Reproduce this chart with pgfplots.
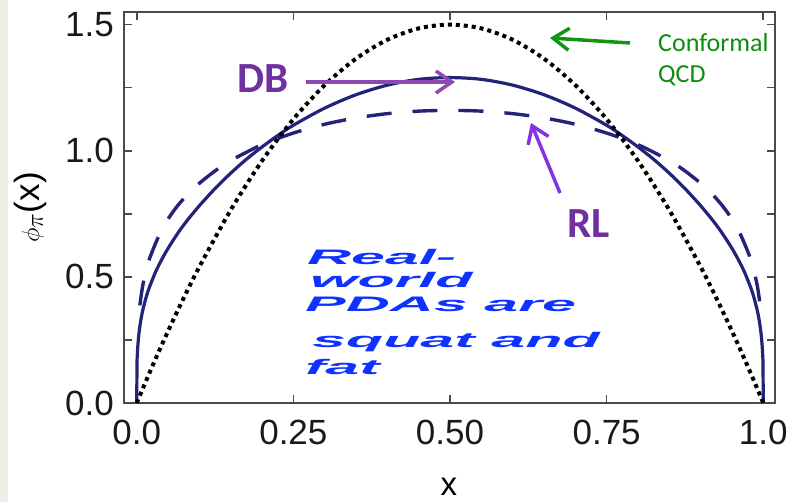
\documentclass[border=0pt]{standalone}
\usepackage{pgfplots}
\pgfplotsset{compat=1.18}
\usepackage{graphicx}
\usepackage{fontspec}
\setmainfont{Liberation Sans}
\newfontfamily\calibri{Carlito}
\usetikzlibrary{arrows.meta}
\definecolor{navy}{RGB}{35,35,120}
\definecolor{axisgray}{RGB}{75,75,75}
\definecolor{beige}{RGB}{238,238,228}
\definecolor{purptext}{RGB}{112,48,160}
\definecolor{purparrowA}{RGB}{142,72,180}
\definecolor{purparrowB}{RGB}{132,52,222}
\definecolor{greentext}{RGB}{14,140,14}
\definecolor{greenarrow}{RGB}{16,150,16}
\definecolor{bluetext}{RGB}{15,50,255}
\begin{document}
\begin{tikzpicture}[x=1pt,y=1pt]
\useasboundingbox (0,0) rectangle (788,502);
\fill[beige] (0,0) rectangle (8,502);
\begin{axis}[
  at={(124pt,99pt)}, anchor=south west,
  scale only axis, width=651pt, height=391pt,
  xmin=-0.0203, xmax=1.0187, ymin=0, ymax=1.55,
  axis line style={line width=2pt, color=axisgray},
  tick style={line width=1.6pt, color=axisgray},
  major tick length=8pt, minor tick length=8pt,
  tick align=inside,
  xtick={0,0.25,0.5,0.75,1},
  xticklabels={0.0,0.25,0.50,0.75,1.0},
  ytick={0,0.5,1,1.5},
  yticklabels={0.0,0.5,1.0,1.5},
  minor ytick={0.25,0.75,1.25},
  ticklabel style={font=\fontsize{35}{35}\selectfont, text=black!90},
  xticklabel style={anchor=north, inner sep=0pt, yshift=-17pt},
  yticklabel style={anchor=east, inner sep=0pt, xshift=-10pt},
  xlabel={x},
  ylabel={$\phi_{\pi}$(x)},
  xlabel style={font=\fontsize{33}{33}\selectfont, inner sep=0pt, at={(axis description cs:0.4992,-0.2148)}, anchor=center},
  ylabel style={font=\fontsize{35}{35}\selectfont, inner sep=0pt, at={(axis description cs:-0.1444,0.5)}, anchor=center},
  clip=false,
]
% RL (dashed)
\addplot[navy, line width=3.4pt, smooth, dash pattern=on 25pt off 21pt] coordinates {
(0.005,0.387) (0.01,0.470) (0.02,0.569) (0.04,0.687) (0.06,0.765) (0.08,0.824)
(0.1,0.871) (0.125,0.920) (0.15,0.961) (0.2,1.024) (0.25,1.070) (0.3,1.105)
(0.35,1.130) (0.4,1.147) (0.45,1.157) (0.5,1.16) (0.55,1.157) (0.6,1.147)
(0.65,1.130) (0.7,1.105) (0.75,1.070) (0.8,1.024) (0.85,0.961) (0.875,0.920)
(0.9,0.871) (0.92,0.824) (0.94,0.765) (0.96,0.687) (0.98,0.569) (0.99,0.470)
(0.995,0.387)
};
% DB (solid)
\addplot[navy, line width=3.2pt, smooth] coordinates {
(0,0) (0.0005,0.158) (0.001,0.192) (0.002,0.234) (0.004,0.285) (0.007,0.335)
(0.01,0.371) (0.015,0.419) (0.02,0.457) (0.03,0.519) (0.04,0.569) (0.05,0.613)
(0.065,0.671) (0.08,0.722) (0.1,0.782) (0.125,0.850) (0.15,0.911) (0.175,0.966)
(0.2,1.015) (0.225,1.060) (0.25,1.101) (0.3,1.169) (0.35,1.222) (0.4,1.260)
(0.45,1.283) (0.5,1.29)
(0.55,1.283) (0.6,1.260) (0.65,1.222) (0.7,1.169) (0.75,1.101) (0.775,1.060)
(0.8,1.015) (0.825,0.966) (0.85,0.911) (0.875,0.850) (0.9,0.782) (0.92,0.722)
(0.935,0.671) (0.95,0.613) (0.96,0.569) (0.97,0.519) (0.98,0.457) (0.985,0.419)
(0.99,0.371) (0.993,0.335) (0.996,0.285) (0.998,0.234) (0.999,0.192) (0.9995,0.158)
(1,0)
};
% Conformal (dotted)
\addplot[black, line width=4pt, smooth, dash pattern=on 4pt off 4pt] coordinates {
(0,0) (0.025,0.14625) (0.05,0.285) (0.075,0.41625) (0.1,0.54) (0.15,0.765)
(0.2,0.96) (0.25,1.125) (0.3,1.26) (0.35,1.365) (0.4,1.44) (0.45,1.485)
(0.5,1.5) (0.55,1.485) (0.6,1.44) (0.65,1.365) (0.7,1.26) (0.75,1.125)
(0.8,0.96) (0.85,0.765) (0.9,0.54) (0.925,0.41625) (0.95,0.285) (0.975,0.14625)
(1,0)
};
\end{axis}
% annotations
\node[anchor=base west, inner sep=0pt, text=purptext] at (237,409) {\calibri\bfseries\fontsize{43}{43}\selectfont DB};
\draw[purparrowA, line width=3.5pt, -{Straight Barb[length=16pt,width=22pt,line width=3.5pt]}] (306,420) -- (455,420);
\node[anchor=base west, inner sep=0pt, text=purptext] at (567,264) {\calibri\bfseries\fontsize{43}{43}\selectfont RL};
\draw[purparrowB, line width=3.5pt, -{Straight Barb[length=16pt,width=22pt,line width=3.5pt]}] (560,309) -- (531,379);
\node[anchor=base west, inner sep=0pt, text=greentext] at (658,450) {\calibri\fontsize{26}{26}\selectfont Conformal};
\node[anchor=base west, inner sep=0pt, text=greentext] at (658,419) {\calibri\fontsize{26}{26}\selectfont QCD};
\draw[greenarrow, line width=3.5pt, -{Straight Barb[length=16pt,width=22pt,line width=3.5pt]}] (630,459) -- (550,464);
\begin{scope}[every node/.style={anchor=base west, inner sep=0pt, text=bluetext, font=\bfseries\itshape\fontsize{21}{21}\selectfont}]
\node at (307,237) {\scalebox{2.9}[1]{Real-}};
\node at (310,214) {\scalebox{2.9}[1]{world}};
\node at (305,190) {\scalebox{2.9}[1]{PDAs are}};
\node at (312,154) {\scalebox{2.9}[1]{squat and}};
\node at (305,127) {\scalebox{2.9}[1]{fat}};
\end{scope}
\end{tikzpicture}
\end{document}
